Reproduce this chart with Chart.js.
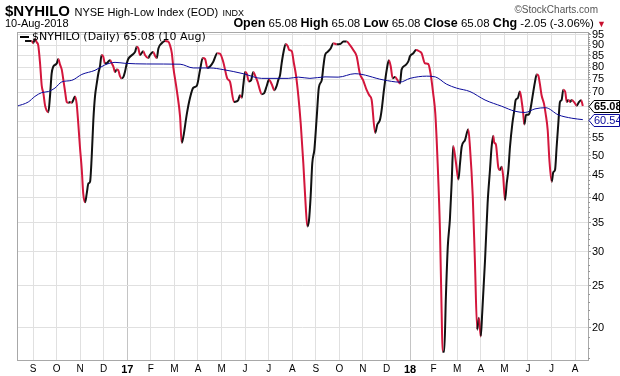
<!DOCTYPE html>
<html>
<head>
<meta charset="utf-8">
<script src="https://cdn.jsdelivr.net/npm/chart.js@4/dist/chart.umd.min.js"></script>
<style>
  body { margin: 0; background: #fff; width: 620px; height: 376px; overflow: hidden; position: relative; font-family: "Liberation Sans", Arial, sans-serif; }
  canvas { position: absolute; left: 0; top: 0; }
  .hd { position: absolute; white-space: nowrap; color: #000; line-height: 1; }
  .b { font-weight: bold; font-size: 12.5px; }
</style>
</head>
<body>
<canvas id="hiloChart" width="620" height="376"></canvas>
<div class="hd" style="left:5px;top:2px">
  <span style="font:bold 15px 'Liberation Sans'">$NYHILO</span>
  <span style="font:11px 'Liberation Sans'">NYSE High-Low Index (EOD)</span>
  <span style="font:9px 'Liberation Sans'">INDX</span>
</div>
<div class="hd" style="right:22px;top:5px;font-size:10px;color:#555">&copy;StockCharts.com</div>
<div class="hd" style="left:5px;top:18px;font-size:11px">10-Aug-2018</div>
<div class="hd" style="right:14px;top:17px;font-size:11.5px">
  <span class="b">Open</span> 65.08 <span class="b">High</span> 65.08 <span class="b">Low</span> 65.08
  <span class="b">Close</span> 65.08 <span class="b">Chg</span> -2.05 (-3.06%) <span style="color:#c8102e;font-size:9px">&#9660;</span>
</div>
<script>
// month ticks: 0 = Sep 2016
const monthLabels = ["S", "O", "N", "D", "17", "F", "M", "A", "M", "J", "J", "A",
                     "S", "O", "N", "D", "18", "F", "M", "A", "M", "J", "J", "A"];
const yTicks = [20, 25, 30, 35, 40, 45, 50, 55, 60, 65, 70, 75, 80, 85, 90, 95];

// $NYHILO daily (x in months from Sep 2016)
const hiloMonths = [
  -0.34, -0.06, 0.01, 0.08, 0.16, 0.22, 0.30, 0.37, 0.44, 0.51, 0.58, 0.65, 0.72, 0.79, 0.86, 0.93,
  1.01, 1.07, 1.15, 1.22, 1.29, 1.36, 1.43, 1.50, 1.57, 1.64, 1.71, 1.78, 1.85, 1.92, 1.99, 2.07,
  2.13, 2.21, 2.28, 2.35, 2.42, 2.49, 2.56, 2.63, 2.70, 2.77, 2.84, 2.91, 2.98, 3.05, 3.13, 3.19,
  3.27, 3.34, 3.41, 3.48, 3.55, 3.62, 3.69, 3.76, 3.83, 3.90, 3.98, 4.04, 4.19, 4.33, 4.40, 4.47,
  4.54, 4.68, 4.75, 4.89, 4.96, 5.10, 5.18, 5.25, 5.32, 5.46, 5.60, 5.74, 5.81, 5.89, 5.95, 6.10,
  6.24, 6.31, 6.38, 6.52, 6.66, 6.80, 6.95, 7.09, 7.20, 7.30, 7.40, 7.51, 7.65, 7.82, 7.93, 8.07,
  8.24, 8.36, 8.53, 8.64, 8.71, 8.78, 8.86, 8.92, 9.00, 9.07, 9.16, 9.25, 9.35, 9.42, 9.53, 9.63,
  9.70, 9.80, 9.92, 10.01, 10.13, 10.24, 10.34, 10.41, 10.48, 10.55, 10.62, 10.72, 10.81, 10.87, 10.98, 11.07,
  11.16, 11.26, 11.36, 11.47, 11.57, 11.64, 11.71, 11.78, 11.85, 11.94, 12.04, 12.13, 12.25, 12.32, 12.39, 12.50,
  12.63, 12.74, 12.89, 13.03, 13.17, 13.31, 13.45, 13.59, 13.73, 13.87, 14.01, 14.16, 14.27, 14.37, 14.52, 14.61,
  14.72, 14.79, 14.89, 15.01, 15.10, 15.18, 15.26, 15.36, 15.46, 15.57, 15.64, 15.78, 15.92, 16.00, 16.14, 16.25,
  16.39, 16.49, 16.63, 16.77, 16.87, 16.98, 17.07, 17.17, 17.27, 17.34, 17.38, 17.45, 17.52, 17.60, 17.69, 17.77,
  17.83, 17.95, 18.05, 18.12, 18.19, 18.33, 18.47, 18.54, 18.66, 18.75, 18.85, 18.92, 19.00, 19.06, 19.18, 19.29,
  19.39, 19.46, 19.53, 19.57, 19.64, 19.74, 19.81, 19.89, 19.95, 20.03, 20.10, 20.17, 20.24, 20.34, 20.42, 20.48,
  20.57, 20.66, 20.74, 20.80, 20.85, 20.92, 21.02, 21.09, 21.16, 21.23, 21.30, 21.37, 21.44, 21.51, 21.58, 21.68,
  21.75, 21.84, 21.91, 22.01, 22.08, 22.15, 22.22, 22.29, 22.36, 22.43, 22.50, 22.58, 22.65, 22.72, 22.79, 22.86,
  23.00, 23.07, 23.17, 23.26, 23.33
];
const hiloValues = [
  92, 92, 91, 93, 91.3, 90, 81.5, 72.5, 69.6, 65.3, 63.5, 63, 68.5, 77.3, 80.3, 81,
  81.7, 83.6, 81, 79, 74.6, 70.3, 66.5, 66.2, 66.5, 66.2, 67.2, 68.5, 66, 59.3, 52.4, 46.3,
  40.9, 39, 40.9, 43.1, 43.5, 49.7, 60.4, 68.5, 73.1, 77.3, 80.3, 85.4, 84.6, 81.7, 81.7, 82.4,
  83, 81.7, 80.3, 78, 79, 78.7, 76.3, 75.4, 75.9, 78, 81.7, 83.6, 85.3, 86.8, 89.2, 88.4,
  85.4, 87.1, 85.4, 84, 85.4, 86.8, 84.9, 84, 88.4, 90.9, 92, 91.7, 90, 86.2, 80.3, 70.8,
  61.5, 53.5, 55.3, 62.1, 67.9, 71.7, 72.5, 79, 84, 83.6, 79.7, 80.3, 82.4, 86.2, 86, 82.4,
  75.4, 74, 66.5, 66.7, 67.2, 68.9, 68, 72.5, 78, 77.3, 74.2, 74.6, 78, 76.6, 74, 70.8,
  69.3, 69.6, 72.5, 74.8, 73.1, 70.8, 72.5, 74.8, 76.6, 81.7, 86.2, 90.5, 89.5, 87.7, 87.1, 81.7,
  76.6, 68.5, 59.3, 48, 38.3, 34.3, 35.4, 40.2, 48, 51.7, 61.5, 71.9, 74.6, 80.3, 85.3, 86.8,
  88.4, 90.9, 90.4, 90.5, 91.7, 91.7, 90, 87.7, 84.9, 77.3, 74.6, 70.8, 68.9, 67.2, 56.4, 59,
  60.4, 63.5, 70.8, 79, 83, 80.3, 75.4, 76, 74.8, 73.4, 79, 80.7, 82.4, 84.9, 86.2, 87.7,
  87.1, 86.2, 81.7, 81.4, 77.3, 69.6, 62.6, 48, 33.3, 21.6, 17.6, 17.6, 23.6, 30.8, 35.6, 44,
  52.6, 48, 44, 48, 52.4, 54.3, 57.5, 52.4, 40.2, 28.6, 19.8, 21.1, 19.1, 21.6, 28.6, 38.8,
  46.3, 52.4, 55.6, 53.6, 53.1, 47.1, 46.3, 47.1, 44.8, 39.4, 43.1, 46.3, 52.4, 59.3, 63.5, 67.2,
  67.9, 70.3, 66.5, 62.6, 59, 62.1, 62.1, 63.3, 66.5, 70.3, 74, 77, 76.6, 73.1, 68.9, 66,
  62.6, 57.2, 49, 43.5, 45.8, 46.3, 52.4, 59.3, 66.5, 67.2, 71, 70.3, 66.5, 67.2, 66.5, 67.2,
  66, 65.2, 66.5, 67.13, 65.08
];

// moving average overlay
const maMonths = [
  -0.69, -0.20, 0.08, 0.37, 0.65, 0.93, 1.22, 1.64, 2.07, 2.63, 3.05, 3.48, 3.90, 4.82, 6.24, 6.80,
  7.51, 8.07, 8.92, 9.70, 10.83, 11.26, 11.75, 12.39, 12.95, 13.66, 14.86, 15.57, 16.00, 16.70, 17.07, 17.55,
  17.97, 18.54, 19.18, 19.89, 20.45, 20.88, 21.30, 21.75, 22.29, 22.86, 23.33
];
const maValues = [
  65, 66.5, 68.5, 69.9, 70.3, 71.6, 74, 74.6, 77, 78.7, 81, 82.1, 81.7, 81.4, 81.3, 79.7,
  79.7, 79, 77.3, 75.4, 75.4, 75.9, 75.4, 76, 75.9, 77.3, 74.8, 73.9, 75.4, 76.3, 76, 73.1,
  71.6, 70.3, 67.2, 65, 63.3, 62.9, 64.1, 64.5, 62.1, 61, 60.54
];

const RED = "#d3163c";
const BLACK = "#111";
const BLUE = "#0a0a9a";

const hiloData = hiloMonths.map((m, i) => ({ x: m, y: hiloValues[i] }));
const maData = maMonths.map((m, i) => ({ x: m, y: maValues[i] }));

// frame, minor ticks, legend and value tags
const decorPlugin = {
  id: "decor",
  afterDraw(chart) {
    const ctx = chart.ctx;
    const a = chart.chartArea;
    const y = chart.scales.y;

    ctx.save();
    ctx.strokeStyle = "#a8a8a8";
    ctx.lineWidth = 1;
    ctx.strokeRect(a.left + 0.5, a.top + 0.5, a.right - a.left, a.bottom - a.top);

    // minor ticks on the value axis
    ctx.strokeStyle = "#999";
    for (let v = 17; v <= 96; v++) {
      if (yTicks.includes(v)) continue;
      const py = Math.round(y.getPixelForValue(v)) + 0.5;
      ctx.beginPath();
      ctx.moveTo(a.right, py);
      ctx.lineTo(a.right + 2, py);
      ctx.stroke();
    }

    // legend in the top-left corner
    ctx.fillStyle = "#000";
    ctx.fillRect(a.left + 3, a.top + 4, 9, 2);
    ctx.font = "11px 'DejaVu Sans'";
    ctx.textBaseline = "middle";
    ctx.fillText("$NYHILO (Daily) 65.08 (10 Aug)", a.left + 15, a.top + 5);

    // last value tags
    const tag = (val, text, color, bold) => {
      const py = Math.round(y.getPixelForValue(val)) + 0.5;
      const x0 = a.right + 1;
      ctx.beginPath();
      ctx.moveTo(x0, py);
      ctx.lineTo(x0 + 5, py - 6);
      ctx.lineTo(619.5, py - 6);
      ctx.lineTo(619.5, py + 6);
      ctx.lineTo(x0 + 5, py + 6);
      ctx.closePath();
      ctx.fillStyle = "#fff";
      ctx.fill();
      ctx.strokeStyle = color;
      ctx.lineWidth = 1;
      ctx.stroke();
      ctx.fillStyle = color;
      ctx.font = (bold ? "bold " : "") + "11px 'Liberation Sans Narrow', 'Liberation Sans'";
      ctx.textBaseline = "middle";
      ctx.fillText(text, x0 + 5, py + 0.5);
    };
    tag(maValues[maValues.length - 1], "60.54", BLUE, false);
    tag(hiloValues[hiloValues.length - 1], "65.08", "#000", true);
    ctx.restore();
  }
};

const chart = new Chart(document.getElementById("hiloChart"), {
  type: "line",
  data: {
    datasets: [
      {
        label: "MA",
        data: maData,
        borderColor: BLUE,
        borderWidth: 1,
        pointRadius: 0,
        cubicInterpolationMode: "monotone",
      },
      {
        label: "$NYHILO",
        data: hiloData,
        borderColor: BLACK,
        borderWidth: 2,
        pointRadius: 0,
        cubicInterpolationMode: "monotone",
        segment: {
          borderColor: (c) => (c.p1.parsed.y < c.p0.parsed.y ? RED : BLACK),
        },
      },
    ],
  },
  options: {
    responsive: false,
    animation: false,
    devicePixelRatio: 1,
    layout: { padding: { left: 17, top: 32, right: 0, bottom: 0 } },
    plugins: { legend: { display: false }, tooltip: { enabled: false } },
    scales: {
      x: {
        type: "linear",
        min: -0.68,
        max: 23.55,
        afterBuildTicks: (s) => { s.ticks = monthLabels.map((_, i) => ({ value: i })); },
        afterFit: (s) => { s.height = 16; },
        grid: {
          drawTicks: false,
          color: (c) => (c.tick && (c.tick.value === 4 || c.tick.value === 16) ? "#c4c4c4" : "#e0e0e0"),
        },
        border: { display: false },
        ticks: {
          padding: 3,
          autoSkip: false,
          maxRotation: 0,
          color: "#000",
          font: (c) => ({
            family: "'Liberation Sans'",
            size: c.tick && (c.tick.value === 4 || c.tick.value === 16) ? 11 : 10,
            weight: c.tick && (c.tick.value === 4 || c.tick.value === 16) ? "bold" : "normal",
          }),
          callback: (v, i) => monthLabels[i],
        },
      },
      y: {
        type: "logarithmic",
        position: "right",
        min: 16.85,
        max: 96.5,
        afterBuildTicks: (s) => { s.ticks = yTicks.map((v) => ({ value: v })); },
        afterFit: (s) => { s.width = 32; },
        grid: { color: "#e0e0e0", tickLength: 3, tickColor: "#999" },
        border: { display: false },
        ticks: {
          padding: 1,
          color: "#000",
          font: { family: "'Liberation Sans'", size: 11 },
          callback: (v) => (v === 60 || v === 65 ? "" : String(v)),
        },
      },
    },
  },
  plugins: [decorPlugin],
});
</script>
</body>
</html>
